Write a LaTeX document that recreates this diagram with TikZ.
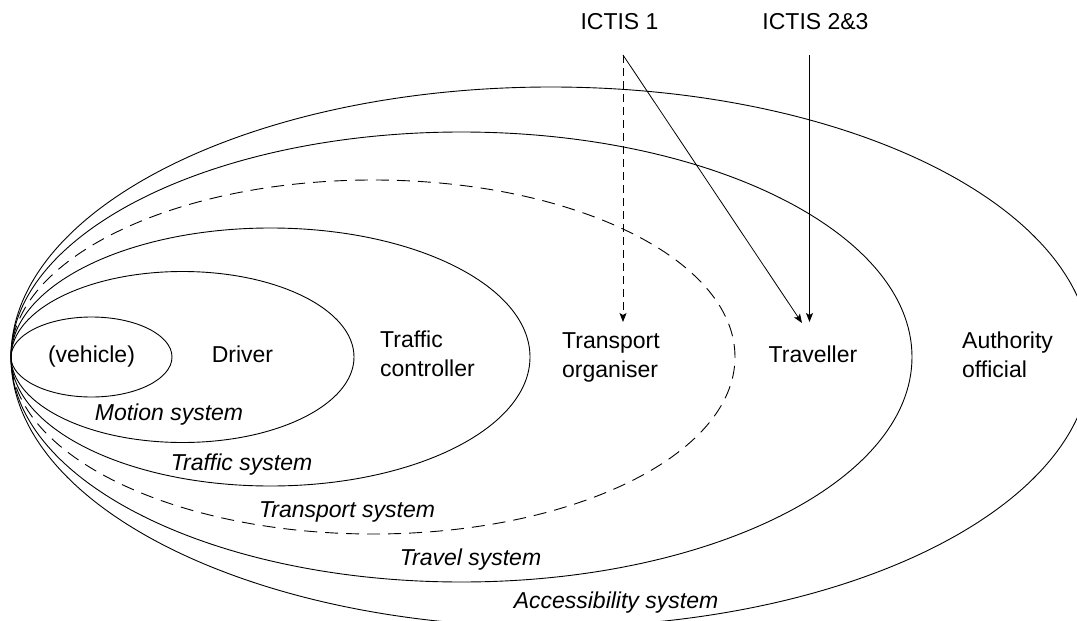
\documentclass[tikz,border=0pt]{standalone}
\usepackage{fontspec}
\setmainfont{Liberation Sans}
\usetikzlibrary{arrows.meta}
\begin{document}
\begin{tikzpicture}[x=1pt,y=-1pt,
  ring/.style={line width=0.9pt},
  dashring/.style={line width=0.9pt, dash pattern=on 13pt off 8pt},
  lbl/.style={inner sep=0pt, font=\fontsize{23}{29}\selectfont},
  lbltwo/.style={lbl, align=left},
  sys/.style={inner sep=0pt, font=\fontsize{23}{29}\selectfont\itshape},
  link/.style={line width=0.8pt, -{Stealth[length=9pt,width=7pt,inset=2pt]}},
  dashlink/.style={link, dash pattern=on 8pt off 5pt}]
\path[use as bounding box] (0,0) rectangle (1077,621);
\begin{scope}
\clip (0,0) rectangle (1077,621);
% nested systems, all touching at the left
\draw[ring] (91.5,357) ellipse [x radius=80.5pt, y radius=40pt];
\draw[ring] (182.5,357) ellipse [x radius=171.5pt, y radius=85.5pt];
\draw[ring] (270.5,357) ellipse [x radius=259.5pt, y radius=129pt];
\draw[dashring] (373,357) ellipse [x radius=362pt, y radius=177pt];
\draw[ring] (461.5,357) ellipse [x radius=450.5pt, y radius=225pt];
\draw[ring] (551,357) ellipse [x radius=540pt, y radius=270pt];
\end{scope}

% actors (two-line labels are anchored on their last baseline)
\node[lbl, anchor=base] (veh) at (91.5,362) {(vehicle)};
\node[lbl, anchor=base] (drv) at (242.5,362) {Driver};
\node[lbltwo, anchor=base west] (ctl) at (380,376) {Traffic\\controller};
\node[lbltwo, anchor=base west] (org) at (562,377) {Transport\\organiser};
\node[lbl, anchor=base] (trv) at (813,362) {Traveller};
\node[lbltwo, anchor=base west] (aut) at (962,377) {Authority\\official};

% system names
\node[sys, anchor=base] (smo) at (169,420.5) {Motion system};
\node[sys, anchor=base] (stf) at (241.5,470) {Traffic system};
\node[sys, anchor=base] (stp) at (347,517) {Transport system};
\node[sys, anchor=base] (stv) at (470.5,565) {Travel system};
\node[sys, anchor=base] (sac) at (616,608) {Accessibility system};

% ICT information services
\node[lbl, anchor=base] (ict1) at (619.5,30) {ICTIS 1};
\node[lbl, anchor=base] (ict2) at (815.5,30) {ICTIS 2\&3};
\coordinate (s1) at (623,55);
\coordinate (s2) at (809.5,55);
\coordinate (e1) at (623,322);
\coordinate (e2) at (802,323);
\coordinate (e3) at (809.5,322);
\draw[dashlink] (s1) -- (e1);
\draw[link] (s1) -- (e2);
\draw[link] (s2) -- (e3);
\end{tikzpicture}
\end{document}
